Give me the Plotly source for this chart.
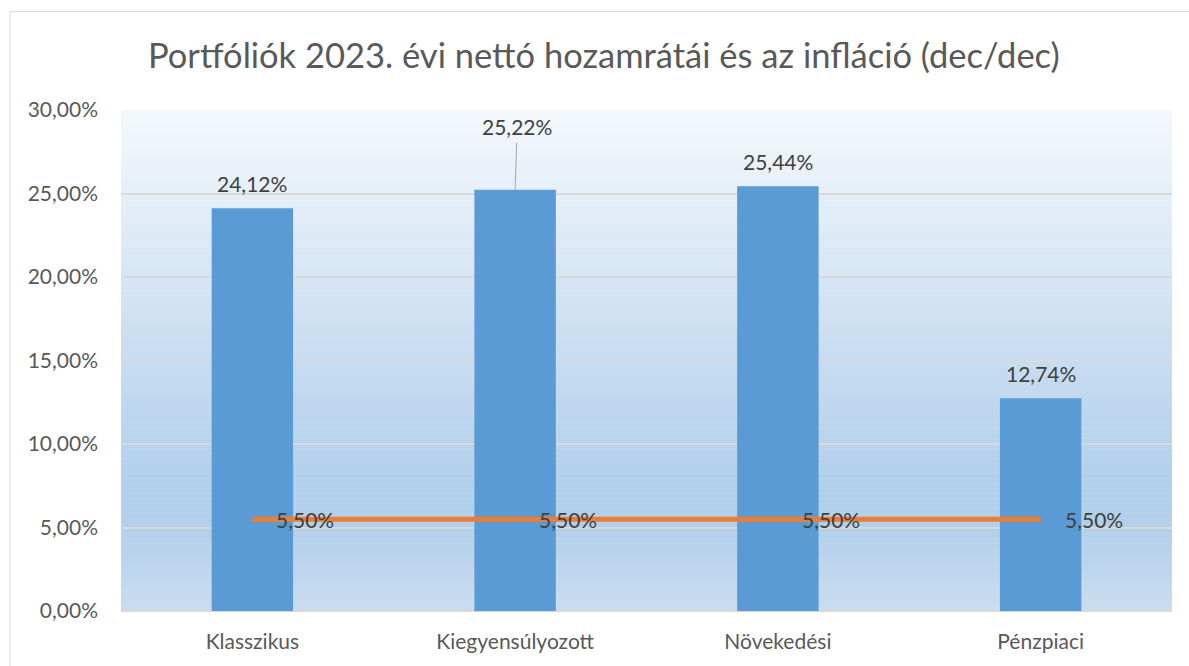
import plotly.graph_objects as go

categories = ["Klasszikus", "Kiegyensúlyozott", "Növekedési", "Pénzpiaci"]
returns = [24.12, 25.22, 25.44, 12.74]
inflation = [5.50, 5.50, 5.50, 5.50]
y_ticks = [0, 5, 10, 15, 20, 25, 30]

FONT = "Lato"
W, H = 1189, 666
ML, MR, MT, MB = 121, 17, 110, 55

def fmt(v):
    return f"{v:.2f}".replace(".", ",") + "%"

fig = go.Figure()
fig.add_trace(go.Bar(
    x=categories, y=returns, marker=dict(color="#5B9BD5", line=dict(width=0)),
    name="Hozam", hoverinfo="skip"))
fig.add_trace(go.Scatter(
    x=categories, y=inflation, mode="lines",
    line=dict(color="#ED7D31", width=5), name="Infláció", hoverinfo="skip"))

LBL = dict(family=FONT, size=21, color="#404040")
annotations = []
for i, (c, v) in enumerate(zip(categories, returns)):
    if i == 1:
        annotations.append(dict(x=c, y=v, text=fmt(v), showarrow=True, arrowhead=0,
                                arrowwidth=1, arrowcolor="#A6A6A6", ax=2, ay=-63,
                                borderpad=3, font=LBL))
    else:
        annotations.append(dict(x=c, y=v, text=fmt(v), showarrow=False, yanchor="middle",
                                yshift=25, font=LBL))
for c, v in zip(categories, inflation):
    annotations.append(dict(x=c, y=v, text=fmt(v), showarrow=False, xanchor="left",
                            yanchor="middle", xshift=22, font=LBL))

pw, ph = W - ML - MR, H - MT - MB
annotations.append(dict(text="Portfóliók 2023. évi nettó hozamrátái és az infláció (dec/dec)",
                        xref="paper", yref="paper", x=(604 - ML) / pw,
                        y=(H - MB - 55) / ph, yanchor="middle",
                        xanchor="center", showarrow=False,
                        font=dict(family=FONT, size=34.5, color="#595959")))

# gradient background bands
def lerp(c1, c2, t):
    return tuple(round(a + (b - a) * t) for a, b in zip(c1, c2))

stops = [(0.0, (244, 248, 252)), (0.74, (178, 207, 235)), (0.83, (178, 207, 235)), (1.0, (202, 221, 240))]
def grad(t):
    for (p0, c0), (p1, c1) in zip(stops[:-1], stops[1:]):
        if t <= p1:
            return lerp(c0, c1, (t - p0) / (p1 - p0) if p1 > p0 else 0)
    return stops[-1][1]

shapes = []
N = 200
for k in range(N):
    t = (k + 0.5) / N
    col = grad(t)
    shapes.append(dict(type="rect", xref="paper", yref="paper", x0=0, x1=1,
                       y0=1 - (k + 1) / N - 0.001, y1=1 - k / N,
                       fillcolor=f"rgb{col}", line=dict(width=0), layer="below"))

shapes.append(dict(type="rect", xref="paper", yref="paper",
                   x0=(10 - ML) / pw, x1=(W + 5 - ML) / pw,
                   y0=-(MB + 5) / ph, y1=(H - MB - 11.5) / ph,
                   line=dict(color="#D9D9D9", width=1), fillcolor="rgba(0,0,0,0)", layer="below"))

fig.update_layout(
    width=W, height=H,
    margin=dict(l=ML, r=MR, t=MT, b=MB),
    paper_bgcolor="white", plot_bgcolor="rgba(0,0,0,0)",
    showlegend=False, bargap=0.69,
    shapes=shapes, annotations=annotations,
    font=dict(family=FONT, color="#595959"),
)
fig.update_yaxes(range=[0, 30], tickmode="array", tickvals=y_ticks,
                 ticktext=[fmt(t) for t in y_ticks],
                 showgrid=True, gridcolor="#D9D9D9", gridwidth=1.5,
                 zeroline=True, zerolinecolor="#D9D9D9", zerolinewidth=2,
                 ticks="", ticklabelstandoff=22,
                 tickfont=dict(family=FONT, size=21, color="#595959"))
fig.update_xaxes(showgrid=False, ticks="", ticklabelstandoff=16,
                 tickfont=dict(family=FONT, size=21, color="#595959"))

fig.write_html("out.html")
